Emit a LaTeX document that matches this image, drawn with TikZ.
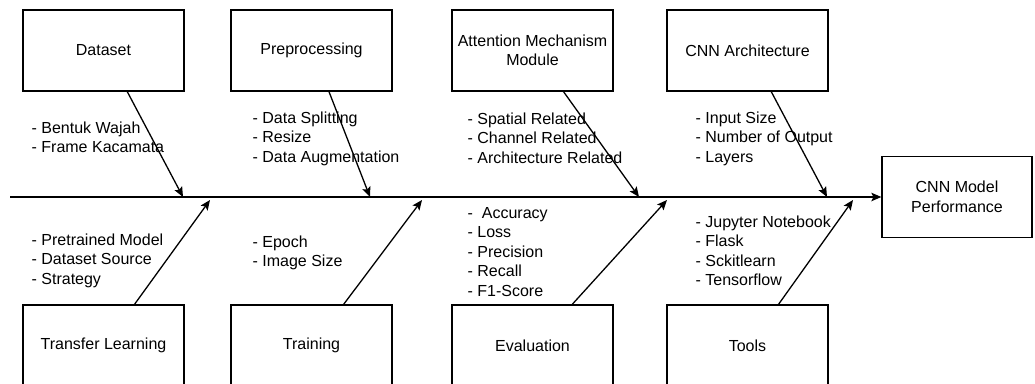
\documentclass[tikz,border=0pt]{standalone}
\usepackage{fontspec}
\setmainfont{Liberation Sans}
\usepackage{tikz}
\usetikzlibrary{arrows.meta}

\begin{document}
\begin{tikzpicture}[x=1pt,y=-1pt,line width=1.3pt,
  >={Stealth[length=10pt,width=8.5pt,inset=2pt]},
  every node/.style={font=\fontsize{16}{19.5}\selectfont},
  cause/.style={draw,minimum width=161pt,minimum height=81pt,align=center,inner sep=2pt},
  items/.style={anchor=north west,align=left,inner sep=0pt}]
\useasboundingbox (0,0) rectangle (1035,383);
\clip (0,0) rectangle (1035,383);
% upper causes
\node[cause] (dataset) at (103.5,50.5) {Dataset};
\node[cause] (prep) at (311.5,50.5) {Preprocessing};
\node[cause] (attn) at (532.5,50.5) {Attention Mechanism\\Module};
\node[cause] (arch) at (747.5,50.5) {CNN Architecture};
% lower causes
\node[cause] (transfer) at (103.5,345.5) {Transfer Learning};
\node[cause] (train) at (311.5,345.5) {Training};
\node[cause] (eval) at (532.5,345.5) {Evaluation};
\node[cause] (tools) at (747.5,345.5) {Tools};
% effect
\node[cause,minimum width=150pt] (perf) at (957,197) {CNN Model\\Performance};
% sub causes
\node[items] (dataset items) at (31,119) {\strut- Bentuk Wajah\\- Frame Kacamata};
\node[items] (prep items) at (252,109) {\strut- Data Splitting\\- Resize\\- Data Augmentation};
\node[items] (attn items) at (467,110) {\strut- Spatial Related\\- Channel Related\\- Architecture Related};
\node[items] (arch items) at (695,109) {\strut- Input Size\\- Number of Output\\- Layers};
\node[items] (transfer items) at (31,231) {\strut- Pretrained Model\\- Dataset Source\\- Strategy};
\node[items] (train items) at (252,233) {\strut- Epoch\\- Image Size};
\node[items] (eval items) at (467,204) {\strut-\ \ Accuracy\\- Loss\\- Precision\\- Recall\\- F1-Score};
\node[items] (tools items) at (695,213) {\strut- Jupyter Notebook\\- Flask\\- Sckitlearn\\- Tensorflow};
% spine
\coordinate (tail) at (10,197);
\draw[->] (tail) -- (perf);
% bones
\coordinate (h1) at (183,197);
\coordinate (h2) at (370,197);
\coordinate (h3) at (639,197);
\coordinate (h4) at (827,197);
\coordinate (h5) at (210,200);
\coordinate (h6) at (422,200);
\coordinate (h7) at (667,200);
\coordinate (h8) at (853,200);
\draw[->] (dataset.-60.9) -- (h1);
\draw[->] (prep.-67.8) -- (h2);
\draw[->] (attn.-53.9) -- (h3);
\draw[->] (arch.-60.9) -- (h4);
\draw[->] (transfer.53.9) -- (h5);
\draw[->] (train.52.1) -- (h6);
\draw[->] (eval.46.4) -- (h7);
\draw[->] (tools.53.9) -- (h8);
\end{tikzpicture}
\end{document}
